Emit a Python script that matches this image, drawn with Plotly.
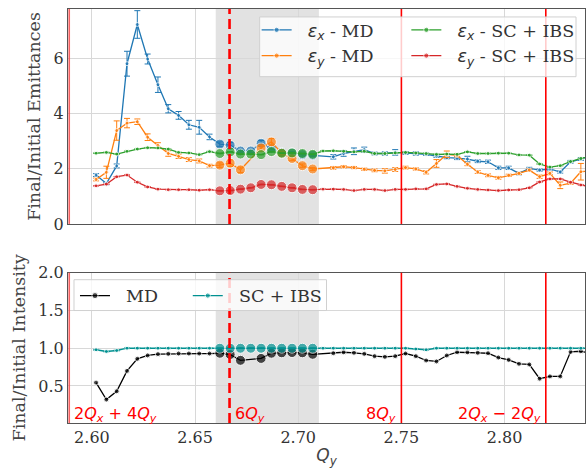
import plotly.graph_objects as go

# ---------------- data ----------------
Q = [2.602, 2.607, 2.612, 2.617, 2.622, 2.627, 2.632, 2.637, 2.642, 2.647,
     2.652, 2.657, 2.662, 2.667, 2.672, 2.677, 2.682, 2.687, 2.692, 2.697,
     2.702, 2.707, 2.712, 2.717, 2.722, 2.727, 2.732, 2.737, 2.742, 2.747,
     2.752, 2.757, 2.762, 2.767, 2.772, 2.777, 2.782, 2.787, 2.792, 2.797,
     2.802, 2.807, 2.812, 2.817, 2.822, 2.827, 2.832, 2.837, 2.842]

ex_md = [1.77, 1.46, 2.10, 5.80, 7.22, 5.97, 5.04, 4.17, 3.93, 3.59,
         3.50, 3.15, 2.89, 2.85, 2.64, 2.64, 2.92, 2.73, 2.59, 2.57,
         2.51, 2.49, None, 2.43, 2.55, 2.63, 2.69, 2.55, 2.55, 2.59,
         2.57, 2.55, 2.52, 2.46, 2.40, 2.38, 2.35, 2.27, 2.25, 2.03,
         2.03, 1.83, 2.01, 1.95, 1.99, 1.88, 2.25, 2.35, 2.45]
ex_md_err = [0.05, 0.04, 0.07, 0.45, 0.50, 0.18, 0.28, 0.15, 0.14, 0.16,
             0.25, 0.10, 0.08, 0.10, 0.05, 0.05, 0.10, 0.05, 0.05, 0.05,
             0.05, 0.05, 0.0, 0.08, 0.10, 0.12, 0.09, 0.05, 0.06, 0.10,
             0.05, 0.06, 0.04, 0.05, 0.04, 0.05, 0.10, 0.05, 0.06, 0.06,
             0.06, 0.05, 0.04, 0.04, 0.04, 0.04, 0.05, 0.05, 0.05]

ey_md = [1.61, 1.87, 3.38, 3.65, 3.70, 3.14, 2.84, 2.55, 2.45, 2.33,
         2.28, 2.11, 2.13, 2.20, 1.96, None, 2.75, 2.97, 2.56, 2.37,
         2.11, 1.99, None, 2.03, 2.07, 2.04, 1.98, 1.94, 1.92, 1.97,
         2.04, 1.99, 1.87, 2.19, 2.52, 2.48, 2.16, 1.88, 1.76, 1.67,
         1.76, 1.83, 1.95, 1.71, 1.83, 1.40, 1.48, 1.89, 1.93]
ey_md_err = [0.05, 0.22, 0.35, 0.17, 0.10, 0.12, 0.10, 0.10, 0.08, 0.07,
             0.07, 0.05, 0.08, 0.12, 0.10, 0.0, 0.10, 0.12, 0.05, 0.08,
             0.06, 0.05, 0.0, 0.05, 0.04, 0.04, 0.04, 0.05, 0.08, 0.07,
             0.05, 0.04, 0.06, 0.14, 0.12, 0.05, 0.05, 0.05, 0.05, 0.05,
             0.04, 0.04, 0.04, 0.06, 0.05, 0.12, 0.05, 0.30, 0.05]

ex_sc = [2.56, 2.59, 2.53, 2.63, 2.71, 2.76, 2.75, 2.71, 2.59, 2.57,
         2.51, 2.62, 2.55, 2.61, 2.53, 2.53, 2.51, 2.62, 2.56, 2.57,
         2.55, 2.52, 2.64, 2.65, 2.63, 2.61, 2.63, 2.55, 2.55, 2.57,
         2.59, 2.57, 2.55, 2.52, 2.53, 2.52, 2.61, 2.55, 2.55, 2.56,
         2.56, 2.50, 2.49, 2.17, 2.06, 2.11, 2.26, 2.37, 2.47]
ey_sc = [1.38, 1.44, 1.71, 1.77, 1.51, 1.34, 1.26, 1.24, 1.24, 1.24,
         1.22, 1.24, 1.20, 1.21, 1.26, 1.31, 1.43, 1.42, 1.36, 1.31,
         1.25, 1.24, 1.26, 1.26, 1.25, 1.21, 1.25, 1.25, 1.21, 1.25,
         1.25, 1.27, 1.27, 1.43, 1.45, 1.36, 1.29, 1.25, 1.23, 1.21,
         1.23, 1.24, 1.31, 1.52, 1.63, 1.63, 1.51, 1.41, 1.33]

int_md = [0.545, 0.32, 0.43, 0.70, 0.86, 0.905, 0.922, 0.926, 0.93, 0.93,
          0.93, 0.93, 0.934, 0.917, 0.84, None, 0.865, 0.934, 0.94, 0.943,
          0.94, 0.92, None, 0.934, 0.947, 0.94, 0.926, 0.895, 0.886, 0.895,
          0.93, 0.895, 0.838, 0.825, 0.904, 0.947, 0.947, 0.94, 0.934, 0.877,
          0.846, 0.794, 0.785, 0.597, 0.627, 0.627, 0.952, 0.96, 0.93]
int_sc = [0.98, 0.957, 0.97, 1.0, 1.0, 1.0, 1.0, 1.0, 1.0, 1.0,
          1.0, 1.0, 1.0, 1.0, 1.0, 1.0, 1.0, 1.0, 1.0, 1.0,
          1.0, 1.0, 1.0, 1.0, 1.0, 1.0, 1.0, 1.0, 1.0, 1.0,
          1.0, 0.99, 0.98, 1.0, 1.0, 1.0, 1.0, 1.0, 1.0, 1.0,
          1.0, 1.0, 1.0, 1.0, 1.0, 1.0, 1.0, 1.0, 1.0]

resonances = [2.589, 2.6667, 2.75, 2.82]
res_labels = ["2<i>Q</i><sub><i>x</i></sub> + 4<i>Q</i><sub><i>y</i></sub>",
              "6<i>Q</i><sub><i>y</i></sub>",
              "8<i>Q</i><sub><i>y</i></sub>",
              "2<i>Q</i><sub><i>x</i></sub> − 2<i>Q</i><sub><i>y</i></sub>"]
shade = [2.66, 2.71]
x_range = [2.5884, 2.839]

# ---------------- styles ----------------
BLUE, ORANGE, GREEN, RED = "#1f77b4", "#ff7f0e", "#2ca02c", "#d62728"
TEAL = "#009191"
SERIF = "DejaVu Serif"
SANS = "DejaVu Sans"
PAD = "\u00a0\u00a0"

def sizes(small, big):
    return [big if shade[0] <= q <= shade[1] else small for q in Q]

def eps(sub, rest):
    return (PAD + f"<span style='font-family:{SANS}'><i>ε<sub>{sub}</sub></i></span> - {rest}")

fig = go.Figure()

def add(y, err, color, name, legend, xa, ya, small=4, big=10):
    fig.add_trace(go.Scatter(
        x=Q, y=y, mode="lines+markers", name=name, legend=legend,
        xaxis=xa, yaxis=ya, connectgaps=True,
        line=dict(color=color, width=1.3),
        marker=dict(color=color, size=sizes(small, big)),
        error_y=(dict(type="data", array=err, color=color, thickness=1, width=3)
                 if err is not None else None),
    ))

add(ex_md, ex_md_err, BLUE, eps("x", "MD"), "legend", "x", "y")
add(ey_md, ey_md_err, ORANGE, eps("y", "MD"), "legend", "x", "y")
add(ex_sc, [0.01] * len(Q), GREEN, eps("x", "SC + IBS"), "legend2", "x", "y")
add(ey_sc, [0.01] * len(Q), RED, eps("y", "SC + IBS"), "legend2", "x", "y")
add(int_md, None, "black", PAD + "MD", "legend3", "x2", "y2", small=5, big=10)
add(int_sc, [0.005] * len(Q), TEAL, PAD + "SC + IBS", "legend4", "x2", "y2", small=4, big=10)

# plot-area geometry (px)
L, R, T, B = 68, 586, 7, 423
W, H = 586, 468
top_dom = [(B - 223) / (B - T), 1.0]
bot_dom = [0.0, (B - 272) / (B - T)]

def xp(px):
    return (px - L) / (R - L)

def yp(py):
    return (B - py) / (B - T)

shapes = []
for xa, ya in (("x", "y"), ("x2", "y2")):
    shapes.append(dict(type="rect", xref=xa, yref=ya + " domain", x0=shade[0], x1=shade[1],
                       y0=0, y1=1, fillcolor="#e2e2e2", line=dict(width=0), layer="below"))
    for i, r in enumerate(resonances):
        dash = "solid"
        color = "red"
        width = 1.6
        if i == 0:
            color = "rgba(245,80,80,0.9)"
        if i == 1:
            dash = "10px,5px"
            width = 2.6
        shapes.append(dict(type="line", xref=xa, yref=ya + " domain", x0=r, x1=r, y0=0, y1=1,
                           line=dict(color=color, width=width, dash=dash), layer="above"))

# legend frames
shapes.append(dict(type="rect", xref="paper", yref="paper", x0=xp(260), x1=xp(577),
                   y0=yp(75), y1=yp(15), fillcolor="rgba(255,255,255,0.8)",
                   line=dict(color="#d0d0d0", width=1), layer="above"))
shapes.append(dict(type="rect", xref="paper", yref="paper", x0=xp(74), x1=xp(327),
                   y0=yp(310), y1=yp(279), fillcolor="rgba(255,255,255,0.8)",
                   line=dict(color="#d0d0d0", width=1), layer="above"))

annotations = []
ann_pos = [(0, "left"), (1, "left"), (2, "right"), (3, "right")]
for (i, side) in ann_pos:
    annotations.append(dict(
        x=resonances[i], xref="x2", y=0.0, yref="y2 domain", text=res_labels[i],
        showarrow=False, xanchor=side, yanchor="bottom", yshift=-4,
        xshift=3 if side == "left" else -3,
        font=dict(family=SANS, size=16, color="red")))

axis_common = dict(showgrid=True, gridcolor="#d8d8d8", gridwidth=1, zeroline=False,
                   showline=True, linecolor="#555555", linewidth=1, mirror=True,
                   tickfont=dict(family=SERIF, size=16, color="#333333"), ticks="")

legend_common = dict(bgcolor="rgba(0,0,0,0)", borderwidth=0,
                     font=dict(family=SERIF, size=17.5, color="#333333"),
                     xanchor="left", yanchor="top", orientation="v")

fig.update_layout(
    width=W, height=H,
    margin=dict(l=L, r=W - R, t=T, b=H - B),
    paper_bgcolor="white", plot_bgcolor="white",
    showlegend=True,
    xaxis=dict(domain=[0, 1], anchor="y", range=x_range, tickvals=[2.60, 2.65, 2.70, 2.75, 2.80],
               showticklabels=False, **axis_common),
    yaxis=dict(domain=top_dom, anchor="x", range=[0, 7.78], tickvals=[0, 2, 4, 6],
               title=dict(text="Final/Initial Emittances", font=dict(family=SERIF, size=17.5, color="#444444"),
                          standoff=8),
               **axis_common),
    xaxis2=dict(domain=[0, 1], anchor="y2", range=x_range, matches="x",
                tickvals=[2.60, 2.65, 2.70, 2.75, 2.80], ticktext=["2.60", "2.65", "2.70", "2.75", "2.80"],
                title=dict(text="<i>Q</i><sub><i>y</i></sub>", font=dict(family=SANS, size=17, color="#444444"),
                           standoff=4),
                **axis_common),
    yaxis2=dict(domain=bot_dom, anchor="x2", range=[0.01, 2.0], tickvals=[0.5, 1.0, 1.5, 2.0],
                ticktext=["0.5", "1.0", "1.5", "2.0"],
                title=dict(text="Final/Initial Intensity", font=dict(family=SERIF, size=17.5, color="#444444"),
                           standoff=8),
                **axis_common),
    legend=dict(x=xp(257), y=yp(10), **legend_common),
    legend2=dict(x=xp(407), y=yp(10), **legend_common),
    legend3=dict(x=xp(75), y=yp(277), **legend_common),
    legend4=dict(x=xp(188), y=yp(277), **legend_common),
    shapes=shapes,
    annotations=annotations,
)

fig.write_html("out.html")
